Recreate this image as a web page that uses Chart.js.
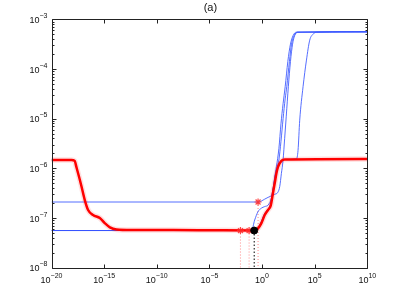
<!DOCTYPE html>
<html>
<head>
<meta charset="utf-8">
<script src="https://cdn.jsdelivr.net/npm/chart.js@4.4.1/dist/chart.umd.min.js"></script>
<style>
  body { margin: 0; background: #fff; }
  #wrap { width: 401px; height: 298px; }
</style>
</head>
<body>
<div id="wrap"><canvas id="chart_a" width="401" height="298"></canvas></div>
<script>
// values (log-log axes)
const titleText = '(a)';

const xTickValues = [1e-20, 1e-15, 1e-10, 1e-5, 1, 1e5, 1e10];
const xTickExps = ['−20', '−15', '−10', '−5', '0', '5', '10'];
const yTickValues = [1e-8, 1e-7, 1e-6, 1e-5, 1e-4, 1e-3];
const yTickExps = ['−8', '−7', '−6', '−5', '−4', '−3'];
const yMinorFactors = [2, 3, 4, 5, 6, 7, 8, 9];

// thick red curve
const redX = [1e-20, 7.9e-19, 1.6e-18, 2.3e-18, 4.9e-18, 7.1e-18, 1.45e-17, 3.0e-17, 8.9e-17, 3.9e-16,
  1.15e-15, 3.5e-15, 1.5e-14, 5.6e-13, 1e-6, 0.18, 0.42, 0.87, 1.8, 3.7, 6.8, 11, 16, 23, 33, 69, 145, 1e10];
const redY = [1.48e-6, 1.48e-6, 1.41e-6, 1.07e-6, 5.9e-7, 4.3e-7, 2.3e-7, 1.45e-7, 1.15e-7, 1.0e-7,
  7.9e-8, 6.5e-8, 5.9e-8, 5.75e-8, 5.7e-8, 5.6e-8, 6.2e-8, 7.9e-8, 1.15e-7, 1.45e-7, 1.8e-7, 3.2e-7, 5.0e-7, 7.9e-7, 1.07e-6, 1.41e-6, 1.51e-6, 1.55e-6];

// thin blue curves
const blue1X = [1e-20, 0.42, 0.87, 1.8, 3.7, 7.8, 16, 32, 48, 69, 100, 141, 200, 316, 501, 794, 1260, 2510, 1e10];
const blue1Y = [2.1e-7, 2.1e-7, 2.2e-7, 2.4e-7, 2.6e-7, 2.8e-7, 3.0e-7, 3.3e-7, 4.3e-7, 7.9e-7, 1.48e-6, 4.0e-6, 1.12e-5, 4.4e-5, 1.41e-4, 3.16e-4, 4.7e-4, 5.5e-4, 5.6e-4];

const blue2X = [1e-20, 0.1, 0.2, 0.42, 0.87, 1.8, 3.7, 7.8, 11, 16, 23, 40, 63, 100, 158, 282, 501, 891, 1780, 1e10];
const blue2Y = [5.6e-8, 5.6e-8, 9.1e-8, 1.35e-7, 1.58e-7, 1.7e-7, 1.82e-7, 2.5e-7, 3.7e-7, 6.8e-7, 1.07e-6, 2.5e-6, 7.9e-6, 2.0e-5, 4.4e-5, 1.41e-4, 3.16e-4, 4.7e-4, 5.5e-4, 5.6e-4];

const blue3X = [1e-20, 0.15, 0.36, 0.74, 1.5, 3.1, 5.8, 9.4, 13.6, 19.6, 28, 40, 63, 100, 158, 224, 398, 631, 1120, 2240, 1e10];
const blue3Y = [5.6e-8, 5.6e-8, 6.2e-8, 7.9e-8, 1.15e-7, 1.45e-7, 1.8e-7, 3.2e-7, 5.0e-7, 7.9e-7, 1.07e-6, 1.48e-6, 3.5e-6, 1.0e-5, 2.5e-5, 4.4e-5, 1.41e-4, 3.16e-4, 4.7e-4, 5.5e-4, 5.6e-4];

const blue4X = [1e-20, 0.165, 0.39, 0.8, 1.65, 3.4, 6.3, 10, 14.7, 21, 30, 63, 130, 1860, 2630, 3800, 7900, 16600, 33900, 69000, 148000, 1e10];
const blue4Y = [5.6e-8, 5.6e-8, 6.2e-8, 7.9e-8, 1.15e-7, 1.45e-7, 1.8e-7, 3.2e-7, 5.0e-7, 7.9e-7, 1.07e-6, 1.41e-6, 1.51e-6, 1.55e-6, 2.3e-6, 9.3e-6, 4.4e-5, 1.51e-4, 3.8e-4, 5.0e-4, 5.5e-4, 5.6e-4];

// markers
const starX = [8.9e-3, 0.059, 0.42];
const starY = [5.6e-8, 5.6e-8, 2.1e-7];
const dotX = [0.18];
const dotY = [5.6e-8];
const floorY = 1e-8;

function pts(xs, ys) {
  return xs.map((x, i) => ({ x: x, y: ys[i] }));
}

const blueColor = 'rgba(55,85,255,0.85)';
const datasets = [];

// dotted drop lines
starX.forEach((x, i) => {
  datasets.push({ data: [{ x: x, y: starY[i] }, { x: x, y: floorY }], borderColor: 'rgba(255,90,90,0.7)',
    borderWidth: 1, borderDash: [1, 2], pointRadius: 0, order: 6 });
});
dotX.forEach((x, i) => {
  datasets.push({ data: [{ x: x, y: dotY[i] }, { x: x, y: floorY }], borderColor: '#000',
    borderWidth: 1, borderDash: [1.5, 2], pointRadius: 0, order: 6 });
});

[[blue1X, blue1Y], [blue2X, blue2Y], [blue3X, blue3Y], [blue4X, blue4Y]].forEach(b => {
  datasets.push({ data: pts(b[0], b[1]), borderColor: blueColor, borderWidth: 1, pointRadius: 0,
    cubicInterpolationMode: 'monotone', order: 4 });
});

datasets.push({ data: pts(redX, redY), borderColor: 'rgba(255,0,0,0.12)', borderWidth: 5.5, pointRadius: 0,
  cubicInterpolationMode: 'monotone', order: 3 });
datasets.push({ data: pts(redX, redY), borderColor: '#ff0000', borderWidth: 2.5, pointRadius: 0,
  cubicInterpolationMode: 'monotone', order: 2 });

datasets.push({ data: pts(starX, starY), showLine: false, pointStyle: 'star', pointRadius: 3.5,
  pointBorderColor: 'rgba(255,40,40,0.85)', pointBorderWidth: 1.2, order: 1 });
datasets.push({ data: pts(dotX, dotY), showLine: false, pointStyle: 'circle', pointRadius: 3.5,
  pointBackgroundColor: '#000', pointBorderColor: '#000', order: 0 });

const FONT = '"Liberation Sans", Arial, Helvetica, sans-serif';

function drawPow(ctx, exp, x, y, align) {
  ctx.font = '9px ' + FONT;
  const bw = ctx.measureText('10').width;
  ctx.font = '7px ' + FONT;
  const ew = ctx.measureText(exp).width;
  const left = align === 'center' ? x - (bw + ew) / 2 : x - (bw + ew);
  ctx.textAlign = 'left';
  ctx.textBaseline = 'middle';
  ctx.font = '9px ' + FONT;
  ctx.fillText('10', left, y);
  ctx.font = '7px ' + FONT;
  ctx.fillText(exp, left + bw, y - 4.5);
}

const matlabAxes = {
  id: 'matlabAxes',
  afterDatasetsDraw(chart) {
    const ctx = chart.ctx;
    const xs = chart.scales.x, ys = chart.scales.y;
    const a = chart.chartArea;
    const L = Math.round(a.left) + 0.5, R = Math.round(a.right) + 0.5;
    const T = Math.round(a.top) + 0.5, B = Math.round(a.bottom) + 0.5;
    ctx.save();
    ctx.strokeStyle = '#222';
    ctx.fillStyle = '#222';
    ctx.lineWidth = 1;
    ctx.beginPath();
    ctx.rect(L, T, R - L, B - T);
    // x ticks
    xTickValues.forEach(v => {
      const px = Math.round(xs.getPixelForValue(v)) + 0.5;
      ctx.moveTo(px, B); ctx.lineTo(px, B - 4);
      ctx.moveTo(px, T); ctx.lineTo(px, T + 4);
    });
    // y ticks
    yTickValues.forEach((v, i) => {
      const py = Math.round(ys.getPixelForValue(v)) + 0.5;
      ctx.moveTo(L, py); ctx.lineTo(L + 4, py);
      ctx.moveTo(R, py); ctx.lineTo(R - 4, py);
      if (i < yTickValues.length - 1) {
        yMinorFactors.forEach(f => {
          const my = Math.round(ys.getPixelForValue(v * f)) + 0.5;
          ctx.moveTo(L, my); ctx.lineTo(L + 2, my);
          ctx.moveTo(R, my); ctx.lineTo(R - 2, my);
        });
      }
    });
    ctx.stroke();
    // labels
    ctx.fillStyle = '#111';
    xTickValues.forEach((v, i) => drawPow(ctx, xTickExps[i], xs.getPixelForValue(v), 281, 'center'));
    yTickValues.forEach((v, i) => drawPow(ctx, yTickExps[i], 47.5, ys.getPixelForValue(v) + 1.2, 'right'));
    ctx.font = '11px ' + FONT;
    ctx.textAlign = 'center';
    ctx.textBaseline = 'middle';
    ctx.fillText(titleText, (a.left + a.right) / 2 + 1, 8);
    ctx.restore();
  }
};

new Chart(document.getElementById('chart_a'), {
  type: 'line',
  data: { datasets: datasets },
  options: {
    responsive: false,
    animation: false,
    events: [],
    layout: { padding: { left: 51.5, right: 33.7, top: 19.3, bottom: 30.3 } },
    plugins: { legend: { display: false }, tooltip: { enabled: false }, title: { display: false } },
    scales: {
      x: { type: 'logarithmic', min: 1e-20, max: 1e10, display: false },
      y: { type: 'logarithmic', min: 1e-8, max: 1e-3, display: false }
    }
  },
  plugins: [matlabAxes]
});
</script>
</body>
</html>
